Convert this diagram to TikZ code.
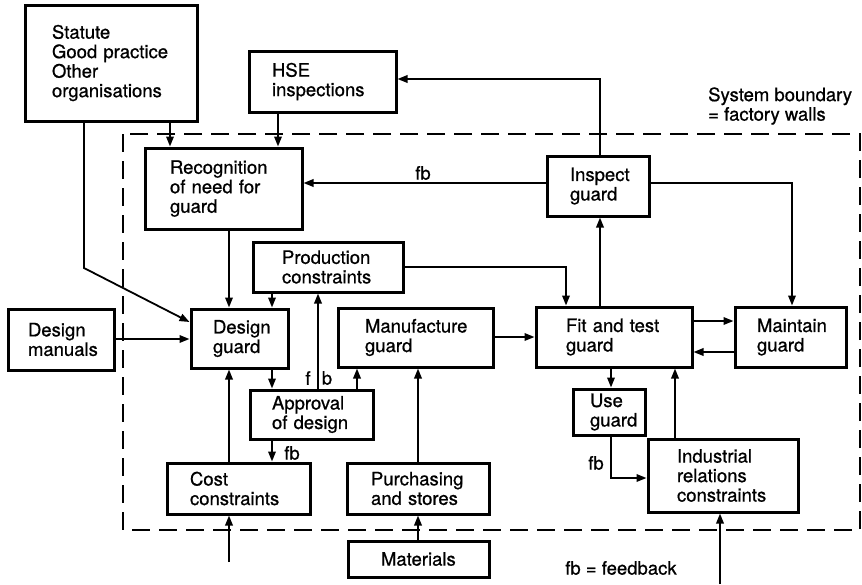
\documentclass[tikz,border=0pt]{standalone}
\usepackage{fontspec}
\setmainfont[FakeBold=0.8]{TeX Gyre Heros}
\usetikzlibrary{arrows.meta}
\newcommand\dfont{\fontsize{18.5}{19.5}\selectfont\hyphenpenalty=10000 }
\tikzset{
  gbox/.style={draw, line width=3pt, inner ysep=0pt, align=left, font=\dfont},
  arr/.style={line width=1.8pt, -{Triangle[length=10pt,width=7.5pt]}},
  lbl/.style={font=\dfont, inner sep=0pt},
  boundary/.style={line width=1.8pt, dash pattern=on 18pt off 9pt},
}
\newcommand\gbox[7]{%
  \pgfmathsetmacro\gbw{#4-#2}%
  \pgfmathsetmacro\gbh{#5-#3}%
  \pgfmathsetmacro\gbt{#4-#2-2*#6}%
  \node[gbox, minimum width=\gbw pt, minimum height=\gbh pt, text width=\gbt pt, inner xsep=#6 pt] (#1) at ({(#2+#4)/2},{(#3+#5)/2}) {#7};}
\begin{document}
\begin{tikzpicture}[x=1pt,y=-1pt]
\useasboundingbox (0,0) rectangle (862,584);
% system boundary
\draw[boundary] (123,134) rectangle (860,530);
% boxes
\gbox{stat}{25}{5}{197}{121}{27}{Statute\\Good practice\\Other\\organisations}
\gbox{hse}{249}{51}{396}{112}{23}{HSE\\inspections}
\gbox{rec}{145}{148}{302}{229}{25}{Recognition\\of need for\\guard}
\gbox{insp}{547}{156}{649}{216}{23}{Inspect\\guard}
\gbox{prod}{253}{242}{403}{292}{29}{Production\\constraints}
\gbox{design}{191}{309}{288}{368}{22}{Design\\guard}
\gbox{manuals}{8}{309}{114}{370}{20}{Design\\manuals}
\gbox{manuf}{338}{308}{493}{367}{27}{Manufacture\\guard}
\gbox{fit}{536}{307}{692}{367}{30}{Fit and test\\guard}
\gbox{maint}{735}{307}{846}{367}{22}{Maintain\\guard}
\gbox{appr}{250}{390}{373}{439}{22}{Approval\\of design}
\gbox{use}{573}{389}{645}{435}{17}{Use\\guard}
\gbox{ind}{648}{439}{798}{512}{29}{Industrial\\relations\\constraints}
\gbox{cost}{167}{463}{310}{514}{23}{Cost\\constraints}
\gbox{purch}{347}{463}{489}{514}{24}{Purchasing\\and stores}
\gbox{mat}{348}{541}{489}{577}{33}{Materials}
% helper coordinates
\coordinate (X84) at (84,0);
\coordinate (X170) at (170,0);
\coordinate (X228) at (229,0);
\coordinate (X271) at (272,0);
\coordinate (X278) at (278,0);
\coordinate (X318) at (318,0);
\coordinate (X357) at (357,0);
\coordinate (X417) at (418,0);
\coordinate (X566) at (566,0);
\coordinate (X600) at (600,0);
\coordinate (X610) at (611,0);
\coordinate (X675) at (675,0);
\coordinate (X720) at (720,0);
\coordinate (X792) at (792,0);
\coordinate (Y79) at (0,79);
\coordinate (Y183) at (0,183);
\coordinate (Y267) at (0,267);
\coordinate (Y321) at (0,321);
\coordinate (Y322) at (0,322);
\coordinate (Y337) at (0,337);
\coordinate (Y339) at (0,339);
\coordinate (Y352) at (0,352);
\coordinate (Y478) at (0,478);
\coordinate (K1) at (84,268);
\coordinate (Icost) at (229,562);
\coordinate (Iind) at (720,584);
% connectors
\draw[arr] (stat.south -| X170) -- (rec.north -| X170);
\draw[arr] (hse.south -| X278) -- (rec.north -| X278);
\draw[arr] (stat.south -| X84) -- (K1) -- (design.west |- Y322);
\draw[arr] (insp.north -| X600) -- (X600 |- Y79) -- (hse.east |- Y79);
\draw[arr] (insp.west |- Y183) -- (rec.east |- Y183);
\draw[arr] (insp.east |- Y183) -| (maint.north -| X792);
\draw[arr] (fit.north -| X600) -- (insp.south -| X600);
\draw[arr] (prod.east |- Y267) -| (fit.north -| X566);
\draw[arr] (rec.south -| X228) -- (design.north -| X228);
\draw[arr] (prod.south -| X271) -- (design.north -| X271);
\draw[arr] (manuals.east |- Y339) -- (design.west |- Y339);
\draw[arr] (design.south -| X271) -- (appr.north -| X271);
\draw[arr] (appr.north -| X318) -- (prod.south -| X318);
\draw[arr] (appr.north -| X357) -- (manuf.south -| X357);
\draw[arr] (manuf.east |- Y337) -- (fit.west |- Y337);
\draw[arr] (appr.south -| X271) -- (cost.north -| X271);
\draw[arr] (cost.north -| X228) -- (design.south -| X228);
\draw[arr] (Icost) -- (cost.south -| X228);
\draw[arr] (purch.north -| X417) -- (manuf.south -| X417);
\draw[arr] (mat.north -| X417) -- (purch.south -| X417);
\draw[arr] (fit.east |- Y321) -- (maint.west |- Y321);
\draw[arr] (maint.west |- Y352) -- (fit.east |- Y352);
\draw[arr] (fit.south -| X610) -- (use.north -| X610);
\draw[arr] (use.south -| X610) |- (ind.west |- Y478);
\draw[arr] (ind.north -| X675) -- (fit.south -| X675);
\draw[arr] (Iind) -- (ind.south -| X720);
% labels
\node[lbl] (fbA) at (423,173) {fb};
\node[lbl] (fbF) at (308,378) {f};
\node[lbl] (fbB) at (327,378) {b};
\node[lbl] (fbC) at (292,453) {fb};
\node[lbl] (fbD) at (596,463) {fb};
\node[lbl, align=left, anchor=west] (sysb) at (708,106) {System boundary\\= factory walls};
\node[lbl] (key) at (621,568) {fb = feedback};
\end{tikzpicture}
\end{document}
